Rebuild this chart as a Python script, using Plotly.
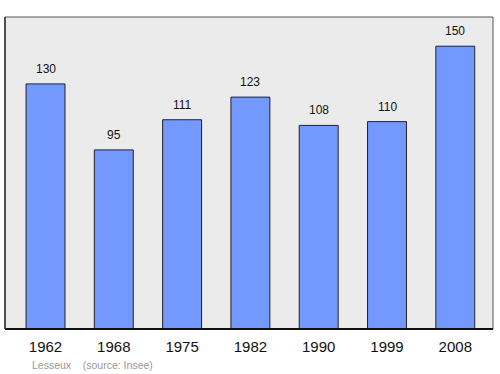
import plotly.graph_objects as go

years = ["1962", "1968", "1975", "1982", "1990", "1999", "2008"]
population = [130, 95, 111, 123, 108, 110, 150]

xpos = list(range(len(years)))

fig = go.Figure()
fig.add_trace(go.Bar(
    x=xpos, y=population, width=0.57,
    marker=dict(color="#7399ff", line=dict(color="#222222", width=1)),
    hoverinfo="skip",
))

for i, v in enumerate(population):
    fig.add_annotation(x=i, y=v, text=str(v), showarrow=False, yanchor="bottom",
                       yshift=6, font=dict(family="Liberation Sans, Arial", size=12, color="#111111"))

fig.add_annotation(xref="paper", yref="paper", x=-0.01, y=-0.115, xanchor="left", yanchor="middle",
                   text="Lesseux&nbsp;&nbsp;&nbsp;&nbsp;(source: Insee)", showarrow=False,
                   font=dict(family="Liberation Sans, Arial", size=10.5, color="#999999"),
                   xshift=30 - 5 + 0.01 * 488)

# plot frame
fig.add_shape(type="rect", xref="paper", yref="paper", x0=0, x1=1, y0=0, y1=1,
              line=dict(color="#555555", width=1), layer="above")
fig.add_shape(type="line", xref="paper", yref="paper", x0=0, x1=1, y0=0, y1=0,
              line=dict(color="#111111", width=2), layer="above")
fig.add_shape(type="line", xref="paper", yref="paper", x0=0, x1=0, y0=0, y1=1,
              line=dict(color="#333333", width=1.5), layer="above")

fig.update_layout(
    width=500, height=374,
    margin=dict(l=5, r=7, t=17, b=45),
    paper_bgcolor="white", plot_bgcolor="#ebebeb",
    showlegend=False,
    font=dict(family="Liberation Sans, Arial", color="#111111"),
    xaxis=dict(range=[-0.593, 6.552], tickmode="array", tickvals=xpos, ticktext=years,
               showgrid=False, zeroline=False, ticks="outside", ticklen=4,
               tickcolor="rgba(0,0,0,0)", tickfont=dict(size=15)),
    yaxis=dict(range=[0, 165.5], showgrid=False, zeroline=False, showticklabels=False, ticks=""),
)

fig.write_html("out.html")
